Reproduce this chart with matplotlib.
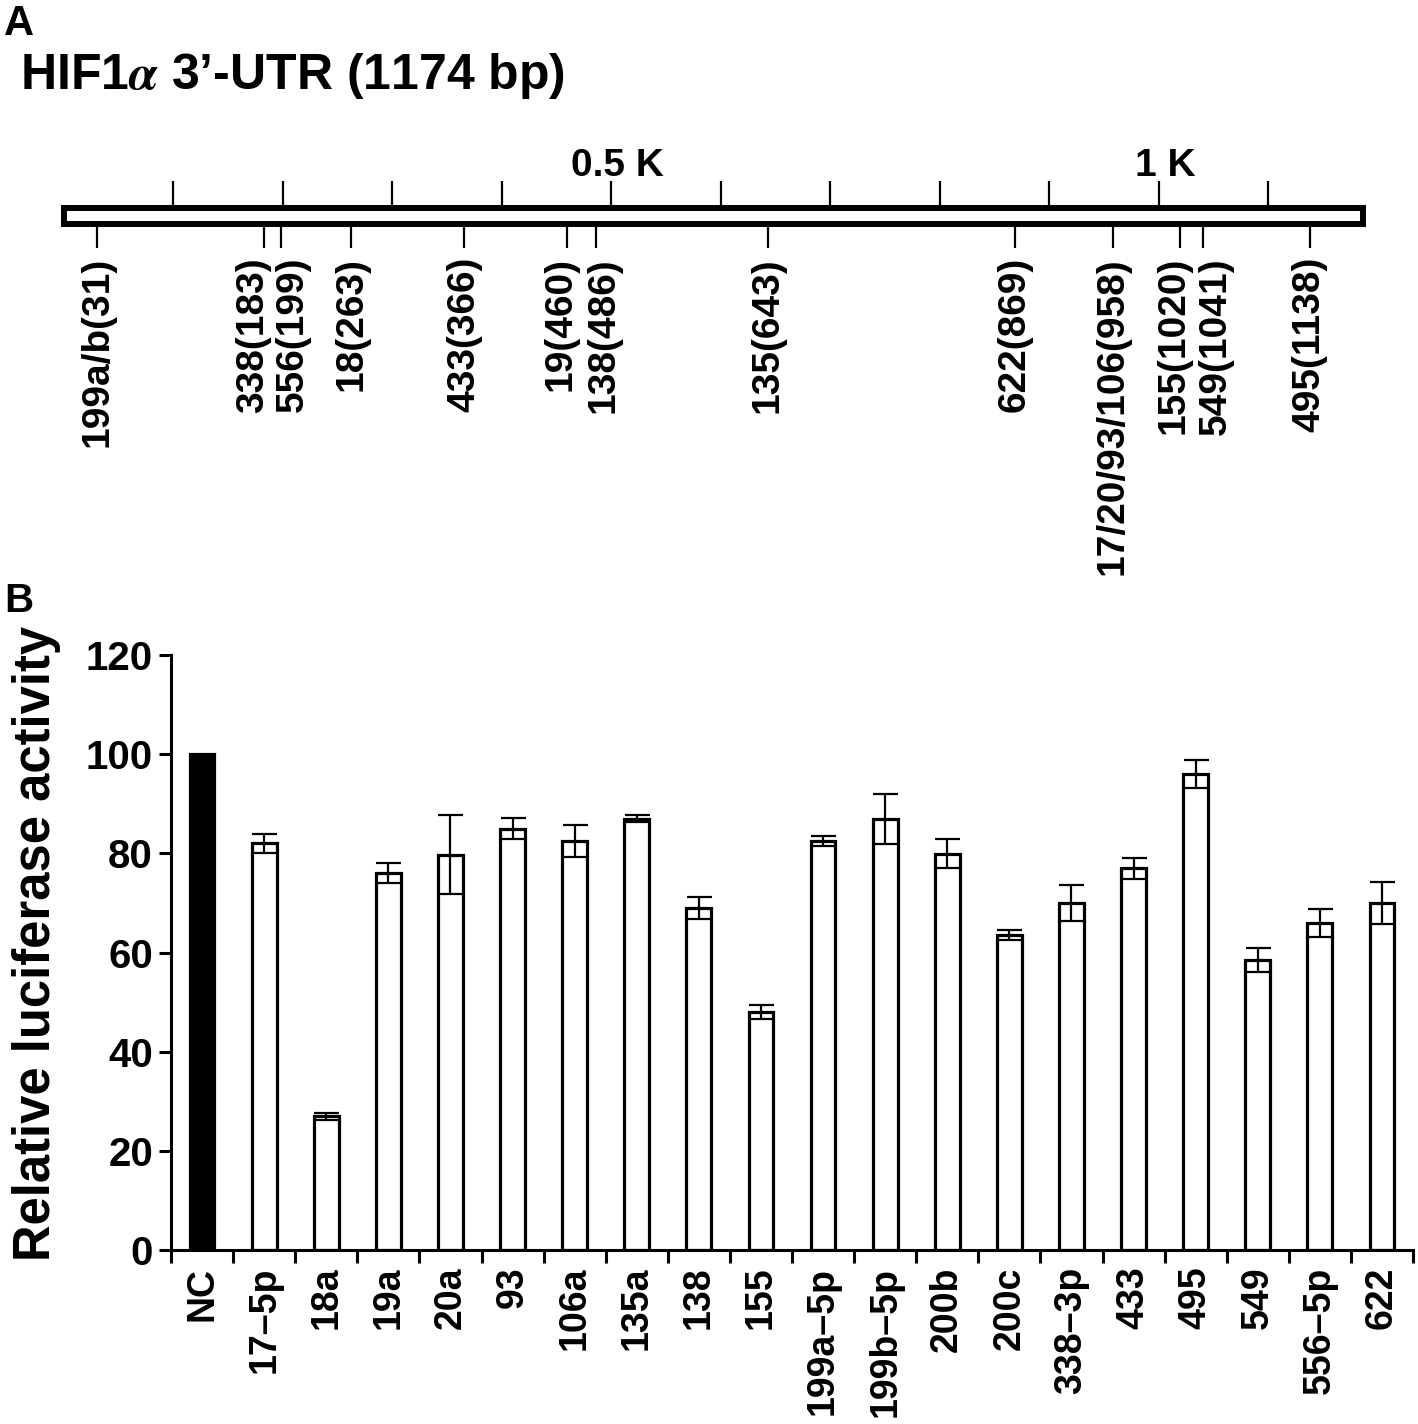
import numpy as np
from matplotlib import pyplot as plt
from matplotlib.patches import Rectangle

plt.rcParams['font.family'] = ['Liberation Sans', 'DejaVu Sans']
plt.rcParams['font.weight'] = 'bold'
plt.rcParams['mathtext.fontset'] = 'stix'

#==============================================================#
# A: HIF1a 3'-UTR map
utr_title = "HIF1$\\alpha$ 3\u2019-UTR (1174 bp)"
bar_end = 1187                       # drawn length of the UTR bar [bp]
scale_ticks = np.arange(100, 1200, 100)
scale_labels = {500: '0.5 K', 1000: '1 K'}
site_pos = [31, 183, 199, 263, 366, 460, 486, 643, 869, 958, 1020, 1041, 1138]
site_names = ['199a/b', '338', '556', '18', '433', '19', '138', '135',
              '622', '17/20/93/106', '155', '549', '495']
# text nudges [px] for crowded labels
site_nudge = {183: -11, 199: 11, 460: -7, 486: 8, 1020: -7, 1041: 12}

# B: luciferase assay
mirnas = ['NC', '17\u20135p', '18a', '19a', '20a', '93', '106a', '135a', '138',
          '155', '199a\u20135p', '199b\u20135p', '200b', '200c', '338\u20133p',
          '433', '495', '549', '556\u20135p', '622']
activity = [100, 82, 27, 76, 79.7, 85, 82.5, 87, 69, 48, 82.4, 86.9, 79.9,
            63.6, 70, 77, 96, 58.5, 66, 70]
err = [0, 2, 0.7, 2, 8, 2.1, 3.2, 0.7, 2.2, 1.4, 1, 5, 2.9, 1, 3.6, 2.1,
       2.8, 2.4, 2.8, 4.2]

#==============================================================#
W, H = 1418, 1424
fig = plt.figure(figsize=(W / 100, H / 100), dpi=100)

# ---- panel A (x in bp, y in pixels from top) ----
px_per_bp = 1.095
x0_px = 63.5
axA = fig.add_axes([0, 1 - 600 / H, 1, 600 / H])
axA.set_xlim(-x0_px / px_per_bp, (W - x0_px) / px_per_bp)
axA.set_ylim(600, 0)
axA.axis('off')

fig.text(4 / W, 1 - 4 / H, 'A', fontsize=30, ha='left', va='top')
fig.text(20 / W, 1 - 89 / H, utr_title, fontsize=36, ha='left', va='baseline')

axA.add_patch(Rectangle((0, 208), bar_end, 15.5, facecolor='white',
                        edgecolor='black', lw=4.3, zorder=3))
axA.vlines(scale_ticks, 181, 208, color='black', lw=1.6)
for pos, lab in scale_labels.items():
    axA.text(pos + 6, 176, lab, fontsize=28, ha='center', va='baseline')

axA.vlines(site_pos, 223, 248, color='black', lw=1.6)
for pos, name in zip(site_pos, site_names):
    dx = site_nudge.get(pos, 0) / px_per_bp
    axA.text(pos + dx, 257, f'{name}({pos})', fontsize=28, rotation=90,
             ha='center', va='top')

# ---- panel B ----
fig.text(4 / W, 1 - 582 / H, 'B', fontsize=29, ha='left', va='top')

axB = fig.add_axes([171 / W, 1 - 1250 / H, (1413 - 171) / W, (1250 - 655) / H])
x = np.arange(len(mirnas))
colors = ['black'] + ['white'] * (len(mirnas) - 1)
axB.bar(x, activity, width=0.4, color=colors, edgecolor='black', lw=2.3, zorder=2)
axB.errorbar(x[1:], activity[1:], yerr=err[1:], fmt='none', ecolor='black',
             elinewidth=1.6, capsize=9, capthick=1.6, zorder=3)

axB.set_xlim(-0.5, len(mirnas) - 0.5)
axB.set_ylim(0, 120)
axB.set_yticks(np.arange(0, 121, 20))
axB.tick_params(axis='y', length=9, width=2.2, pad=4, labelsize=29)
axB.set_xticks(x)
axB.set_xticklabels(mirnas, rotation=90, fontsize=27)
axB.set_xticks(np.arange(len(mirnas) + 1) - 0.5, minor=True)
axB.tick_params(axis='x', which='major', length=0, pad=12)
axB.tick_params(axis='x', which='minor', length=9, width=2.2)
for s in ['top', 'right']:
    axB.spines[s].set_visible(False)
for s in ['left', 'bottom']:
    axB.spines[s].set_linewidth(2.2)

fig.text(37 / W, 1 - 943 / H, 'Relative luciferase activity', fontsize=36.5,
         rotation=90, ha='center', va='center')

fig.savefig('out.png', dpi=100)
